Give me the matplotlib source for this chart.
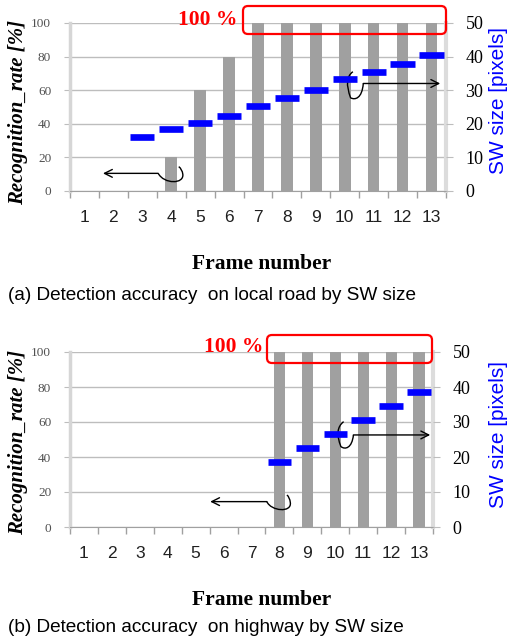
import numpy as np
import matplotlib
matplotlib.use("Agg")
import matplotlib.pyplot as plt
from matplotlib.path import Path
from matplotlib.patches import PathPatch, FancyBboxPatch
from matplotlib.transforms import IdentityTransform

# data
frames = np.arange(1, 14)
frame_labels = [str(f) for f in frames]

rate_local = [0, 0, 0, 20, 60, 80, 100, 100, 100, 100, 100, 100, 100]
sw_frames_local = [3, 4, 5, 6, 7, 8, 9, 10, 11, 12, 13]
sw_local = [16, 18.5, 20.3, 22.3, 25.3, 27.6, 30.2, 33.2, 35.5, 37.7, 40.4]

rate_highway = [0, 0, 0, 0, 0, 0, 0, 100, 100, 100, 100, 100, 100]
sw_frames_highway = [8, 9, 10, 11, 12, 13]
sw_highway = [18.6, 22.7, 26.6, 30.7, 34.5, 38.6]

W, H = 516, 644
fig = plt.figure(figsize=(W / 100, H / 100), dpi=100)

def fx(px):
    return px / W

def fy(py):
    return 1 - py / H

serif = "Liberation Serif"
sans = "Liberation Sans"


def make_panel(rect, rates, swx, swy):
    ax = fig.add_axes(rect)
    ax.bar(frames, rates, width=0.4, color="#a0a0a0", zorder=2)
    ax.set_xlim(0.5, 13.5)
    ax.set_ylim(0, 100)
    ax.set_yticks(range(0, 101, 20))
    ax.grid(axis="y", color="#bdbdbd", lw=1, zorder=0)
    ax.set_xticks(frames)
    ax.set_xticklabels(frame_labels, fontfamily=sans, fontsize=12.5, color="#202020")
    ax.set_xticks(np.arange(0.5, 14, 1), minor=True)
    ax.tick_params(axis="x", which="major", length=0, pad=14)
    ax.tick_params(axis="x", which="minor", length=5, color="#a0a0a0", width=1)
    ax.tick_params(axis="y", length=4, color="#bdbdbd", pad=9.5, labelcolor="#505050")
    for lab in ax.get_yticklabels():
        lab.set_fontfamily(serif)
        lab.set_fontsize(9.5)
    ax.spines["top"].set_visible(False)
    ax.spines["bottom"].set_color("#a0a0a0")
    ax.spines["left"].set_color("#d6d6d6")
    ax.spines["left"].set_linewidth(2.5)
    ax.spines["right"].set_color("#dcdcdc")
    ax.spines["right"].set_linewidth(3)

    ax2 = ax.twinx()
    ax2.set_ylim(0, 50)
    ax2.set_yticks(range(0, 51, 10))
    ax2.hlines(swy, np.array(swx) - 0.42, np.array(swx) + 0.42,
               color="#0000ff", lw=4.8, zorder=4)
    ax2.tick_params(axis="y", length=5, color="#bdbdbd", pad=9)
    for lab in ax2.get_yticklabels():
        lab.set_fontfamily(serif)
        lab.set_fontsize(13)
    for s in ax2.spines.values():
        s.set_visible(False)
    return ax, ax2


def curl_arrow(ax, tip, start, curl):
    # straight arrow plus a small hook pointing at the series
    ax.annotate("", xy=tip, xytext=start,
                arrowprops=dict(arrowstyle="->", lw=1, color="black",
                                mutation_scale=14, shrinkA=0, shrinkB=0),
                zorder=6, annotation_clip=False)
    codes = [Path.MOVETO] + [Path.CURVE4] * 3 + [Path.CURVE3] * 2
    p = PathPatch(Path(curl, codes), fill=False, lw=1, color="black", zorder=6)
    ax.add_patch(p)


def red_box(x0, y0, x1, y1):
    box = FancyBboxPatch((x0, H - y1), x1 - x0, y1 - y0,
                         boxstyle="round,pad=0,rounding_size=5",
                         fill=False, edgecolor="#ff0000", lw=1.6,
                         transform=IdentityTransform())
    fig.add_artist(box)


def labels(ylab_y, right_y, frame_y, caption_y, caption, red_x, red_y):
    fig.text(fx(red_x), fy(red_y), "100 %", ha="right", va="center",
             color="#ff0000", fontfamily=serif, fontweight="bold", fontsize=15.5)
    fig.text(fx(18.5), fy(ylab_y), "Recognition_rate [%]", rotation=90,
             ha="center", va="center", fontfamily=serif, fontweight="bold",
             fontstyle="italic", fontsize=15)
    fig.text(fx(498), fy(right_y), "SW size [pixels]", rotation=90,
             ha="center", va="center", fontfamily=sans, fontsize=15,
             color="#0000ff")
    fig.text(fx(262), fy(frame_y), "Frame number", ha="center", va="center",
             fontfamily=serif, fontweight="bold", fontsize=15.5)
    fig.text(fx(8), fy(caption_y), caption, ha="left", va="center",
             fontfamily=sans, fontsize=13.7)


# panel (a)
axa, axa2 = make_panel([fx(70), fy(191), fx(446) - fx(70), (191 - 23) / H],
                       rate_local, sw_frames_local, sw_local)
curl_arrow(axa, (1.64, 10.5), (3.55, 10.5),
           [(3.55, 10.5), (3.75, 4.0), (4.45, 4.0), (4.40, 10.0),
            (4.38, 13.0), (4.26, 14.5)])
curl_arrow(axa, (13.3, 64), (10.64, 64),
           [(10.64, 64), (10.6, 55), (10.35, 54), (10.2, 55.5),
            (9.95, 67), (10.28, 71)])
red_box(243, 6, 446, 34)
labels(112, 101, 264, 296, "(a) Detection accuracy  on local road by SW size",
       237, 20)

# panel (b)
axb, axb2 = make_panel([fx(70), fy(527), fx(433) - fx(70), (527 - 352) / H],
                       rate_highway, sw_frames_highway, sw_highway)
curl_arrow(axb, (5.52, 14.5), (7.55, 14.5),
           [(7.55, 14.5), (7.7, 9.0), (8.45, 8.0), (8.39, 14.0),
            (8.37, 17.0), (8.27, 18.3)])
curl_arrow(axb, (13.4, 52.6), (10.65, 52.6),
           [(10.65, 52.6), (10.6, 45), (10.35, 44), (10.2, 46),
            (9.95, 56), (10.3, 60.2)])
red_box(267, 335, 432, 363)
labels(442, 434, 600, 628, "(b) Detection accuracy  on highway by SW size",
       263, 347)

fig.savefig("out.png", dpi=100)
